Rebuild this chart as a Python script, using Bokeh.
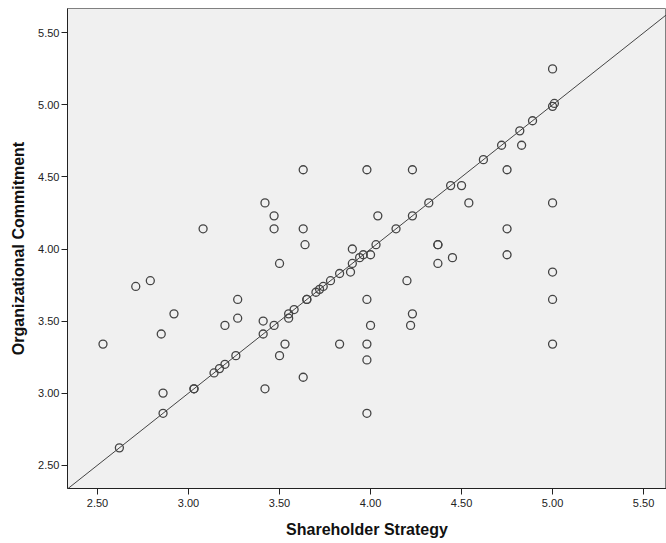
from bokeh.plotting import figure
from bokeh.models import Range1d, FixedTicker, NumeralTickFormatter, Slope, ColumnDataSource
from bokeh.embed import file_html
from bokeh.resources import INLINE

# Shareholder Strategy (x) and Organizational Commitment (y)
shareholder_strategy = [
    # points on/near the diagonal
    2.62, 2.86, 3.03, 3.03, 3.14, 3.17, 3.20, 3.26, 3.41, 3.47, 3.55, 3.58,
    3.65, 3.65, 3.70, 3.72, 3.74, 3.78, 3.83, 3.90, 3.94, 3.96, 4.03, 4.14,
    4.23, 4.32, 4.44, 4.62, 4.72, 4.82, 4.89, 5.00, 5.01,
    # other points
    2.53, 2.71, 2.79, 2.85, 2.86, 2.92, 3.08, 3.20, 3.27, 3.27, 3.41, 3.42,
    3.42, 3.47, 3.47, 3.50, 3.50, 3.53, 3.55, 3.63, 3.63, 3.64, 3.63, 3.83,
    3.89, 3.90, 3.98, 3.98, 3.98, 3.98, 3.98, 4.00, 4.00, 4.04, 4.20, 4.22,
    4.23, 4.23, 4.37, 4.37, 4.37, 4.45, 4.50, 4.54, 4.75, 4.75, 4.75, 4.83,
    5.00, 5.00, 5.00, 5.00, 5.00,
]
organizational_commitment = [
    2.62, 2.86, 3.03, 3.03, 3.14, 3.17, 3.20, 3.26, 3.41, 3.47, 3.55, 3.58,
    3.65, 3.65, 3.70, 3.72, 3.74, 3.78, 3.83, 3.90, 3.94, 3.96, 4.03, 4.14,
    4.23, 4.32, 4.44, 4.62, 4.72, 4.82, 4.89, 4.99, 5.01,
    3.34, 3.74, 3.78, 3.41, 3.00, 3.55, 4.14, 3.47, 3.65, 3.52, 3.50, 4.32,
    3.03, 4.23, 4.14, 3.90, 3.26, 3.34, 3.52, 4.55, 4.14, 4.03, 3.11, 3.34,
    3.84, 4.00, 4.55, 3.65, 3.34, 3.23, 2.86, 3.96, 3.47, 4.23, 3.78, 3.47,
    3.55, 4.55, 4.03, 4.03, 3.90, 3.94, 4.44, 4.32, 4.55, 4.14, 3.96, 4.72,
    5.25, 4.32, 3.84, 3.65, 3.34,
]

x_ticks = [2.5, 3.0, 3.5, 4.0, 4.5, 5.0, 5.5]
y_ticks = [2.5, 3.0, 3.5, 4.0, 4.5, 5.0, 5.5]

FONT = "Liberation Sans"

p = figure(width=666, height=543, output_backend="svg", toolbar_location=None,
           x_range=Range1d(2.335, 5.626), y_range=Range1d(2.338, 5.669),
           min_border_left=67, min_border_right=0, min_border_top=8, min_border_bottom=55)

p.background_fill_color = "#F0F0F0"
p.border_fill_color = "white"
p.outline_line_color = "#808080"
p.outline_line_width = 1
p.xgrid.visible = False
p.ygrid.visible = False

for ax, ticks in ((p.xaxis[0], x_ticks), (p.yaxis[0], y_ticks)):
    ax.ticker = FixedTicker(ticks=ticks)
    ax.formatter = NumeralTickFormatter(format="0.00")
    ax.minor_tick_line_color = None
    ax.major_tick_in = 0
    ax.major_tick_out = 6
    ax.major_tick_line_color = "#222222"
    ax.axis_line_color = "#222222"
    ax.major_label_text_font = FONT
    ax.major_label_text_font_size = "11px"
    ax.major_label_text_color = "#222222"
    ax.axis_label_text_font = FONT
    ax.axis_label_text_font_size = "16px"
    ax.axis_label_text_font_style = "bold"
    ax.axis_label_text_color = "#111111"

p.xaxis.axis_label = "Shareholder Strategy"
p.yaxis.axis_label = "Organizational Commitment"
p.xaxis.major_label_standoff = 4
p.yaxis.major_label_standoff = 2
p.xaxis.axis_label_standoff = 11
p.yaxis.axis_label_standoff = 8

p.add_layout(Slope(gradient=1, y_intercept=0, line_color="#444444", line_width=1))

src = ColumnDataSource(data=dict(x=shareholder_strategy, y=organizational_commitment))
p.scatter("x", "y", source=src, marker="circle", size=8, fill_color=None,
          line_color="#444444", line_width=1.3)

open("out.html", "w").write(file_html(p, INLINE))
